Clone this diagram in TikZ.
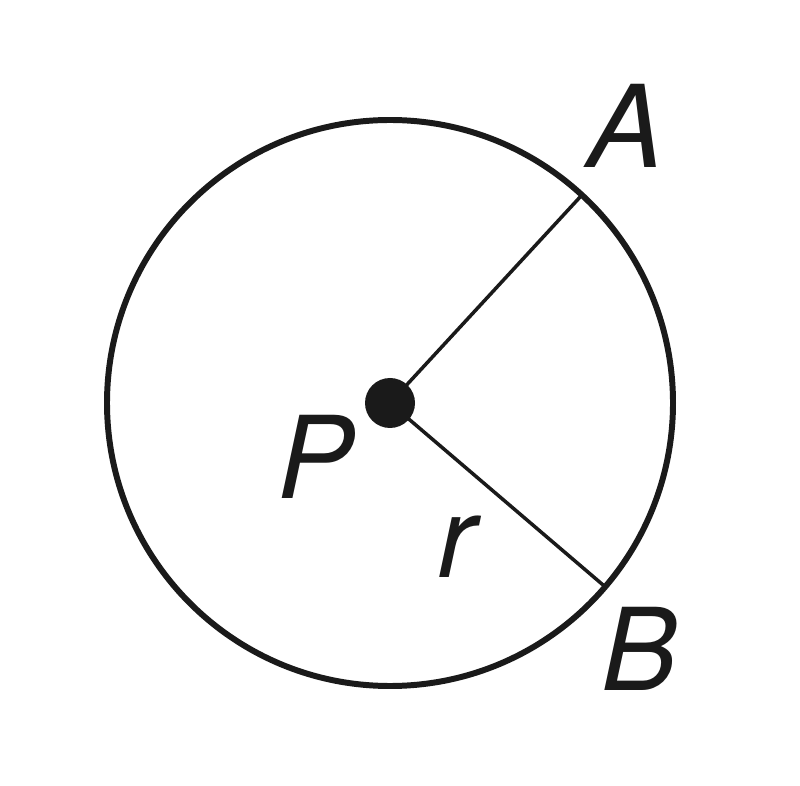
\documentclass[tikz,border=0pt]{standalone}
\usepackage{fontspec}
\setmainfont{TeX Gyre Heros}
\usetikzlibrary{calc, positioning}

\begin{document}
\begin{tikzpicture}[font=\fontsize{32.5}{38}\selectfont\itshape]
            %--- Theme colors ---
            \definecolor{InkLine}{HTML}{1A1A1A}      % circle and radii
            \tikzset{
              rim/.style={line width=1.7pt, InkLine},
              radius line/.style={line width=1pt, InkLine},
              lbl/.style={anchor=base, inner sep=0pt, InkLine}
            }
            \useasboundingbox (0,0) rectangle (8,7.85);

            %--- Circle with centre P ---
            \coordinate (O) at (3.90,3.82);
            \draw[rim] (O) circle (2.83);

            %--- Points on the circle ---
            \coordinate (A) at ($(O)+(47.3:2.83)$);   % upper point
            \coordinate (B) at ($(O)+(-40.5:2.83)$);  % lower point

            %--- Radii ---
            \draw[radius line] (O) -- (A);
            \draw[radius line] (O) -- (B);

            %--- Centre dot on top ---
            \node[circle, fill=InkLine, inner sep=0pt, minimum size=0.5cm] (P) at (O) {};

            %--- Labels ---
            \node[lbl] (labA) at (6.26,6.17) {A};
            \node[lbl] (labP) at (3.16,2.87) {P};
            \node[lbl] (labr) at (4.57,2.08) {r};
            \node[lbl] (labB) at (6.40,0.95) {B};
          \end{tikzpicture}
\end{document}
